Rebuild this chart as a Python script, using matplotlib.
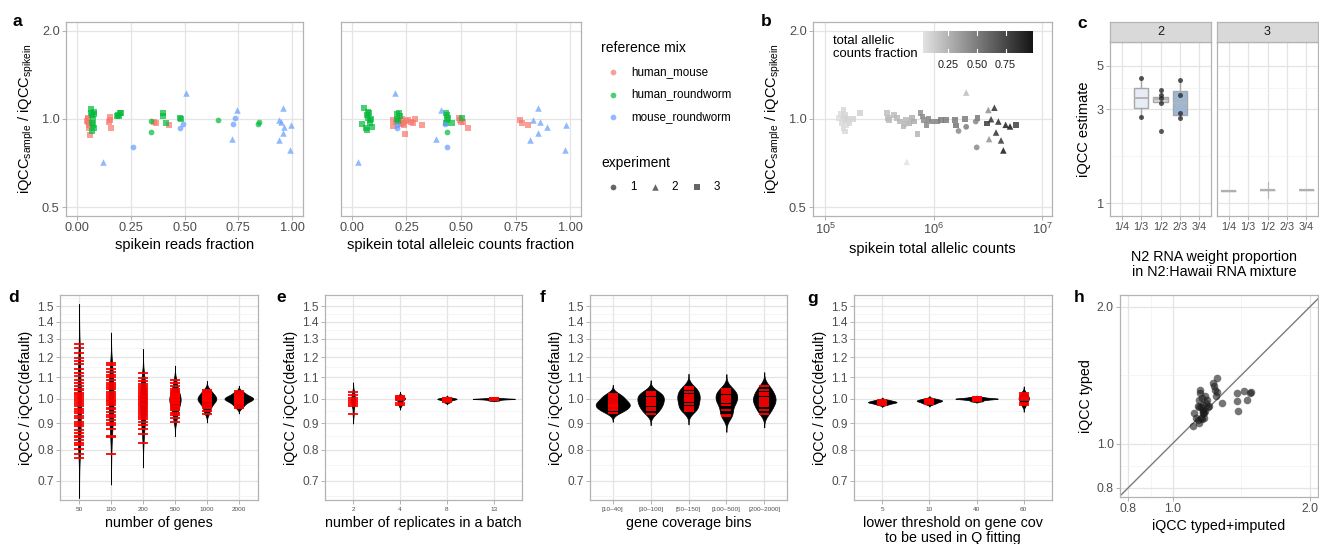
import numpy as np
import matplotlib
matplotlib.use("Agg")
import matplotlib.pyplot as plt
from matplotlib.colors import LinearSegmentedColormap, Normalize
from matplotlib.cm import ScalarMappable
from matplotlib.ticker import FixedLocator, FixedFormatter, NullFormatter

plt.rcParams["font.family"] = ["Liberation Sans", "DejaVu Sans"]
plt.rcParams["mathtext.fontset"] = "custom"
plt.rcParams["mathtext.rm"] = "Liberation Sans"
plt.rcParams["mathtext.it"] = "Liberation Sans:italic"

# ---------------------------------------------------------------- data
MIXES = ["human_mouse", "human_roundworm", "mouse_roundworm"]
MIX_COLORS = ["#F8766D", "#00BA38", "#619CFF"]
EXP_MARKERS = {1: "o", 2: "^", 3: "s"}

# panel a (left): spike-in reads fraction vs iQCC ratio, per (mix, experiment)
a1_hm3_x = [0.048, 0.050, 0.052, 0.053, 0.055, 0.058, 0.060, 0.150, 0.152, 0.155, 0.158, 0.360, 0.370, 0.428]
a1_hm3_y = [0.985, 1.000, 0.975, 1.010, 0.950, 0.930, 0.885, 0.980, 0.995, 1.013, 0.930, 0.975, 0.970, 0.955]
a1_hr3_x = [0.065, 0.068, 0.070, 0.072, 0.072, 0.074, 0.075, 0.078, 0.078, 0.080,
            0.185, 0.192, 0.198, 0.200, 0.205, 0.398, 0.402, 0.412, 0.478, 0.482]
a1_hr3_y = [1.080, 1.050, 0.970, 1.030, 0.910, 0.950, 1.000, 1.060, 0.930, 1.040,
            1.020, 1.030, 1.020, 1.050, 1.045, 1.050, 1.020, 0.972, 1.005, 1.000]
a1_hr1_x = [0.344, 0.346, 0.654, 0.843, 0.847]
a1_hr1_y = [0.904, 0.985, 0.990, 0.962, 0.980]
a1_mr1_x = [0.261, 0.477, 0.495, 0.724, 0.736]
a1_mr1_y = [0.800, 0.930, 0.962, 0.962, 1.010]
a1_mr2_x = [0.122, 0.505, 0.720, 0.742, 0.937, 0.937, 0.948, 0.955, 0.955, 0.960, 0.990, 0.994]
a1_mr2_y = [0.714, 1.230, 0.854, 1.073, 0.990, 0.845, 0.975, 1.087, 0.895, 0.942, 0.781, 0.955]

# panel a (right): spike-in total allelic counts fraction vs iQCC ratio
a2_hm3_x = [0.188, 0.190, 0.200, 0.215, 0.225, 0.228, 0.235, 0.240, 0.243, 0.250, 0.258, 0.270,
            0.280, 0.290, 0.320, 0.490, 0.495, 0.500, 0.510, 0.530, 0.770, 0.778, 0.809]
a2_hm3_y = [0.945, 0.990, 0.975, 0.990, 0.960, 1.000, 0.970, 0.955, 0.888, 0.985, 0.990, 0.975,
            0.972, 1.000, 0.950, 1.010, 0.995, 0.975, 0.980, 0.930, 0.990, 0.972, 0.955]
a2_hr3_x = [0.048, 0.057, 0.064, 0.070, 0.070, 0.075, 0.075, 0.080, 0.083, 0.085, 0.088, 0.092,
            0.205, 0.208, 0.212, 0.215, 0.222, 0.430, 0.432, 0.435, 0.438, 0.440, 0.457, 0.503]
a2_hr3_y = [0.960, 1.087, 0.930, 1.030, 0.915, 1.010, 1.060, 1.045, 0.970, 0.990, 1.000, 0.940,
            1.000, 1.040, 0.985, 1.050, 1.020, 1.050, 0.970, 1.030, 0.995, 1.010, 0.970, 1.005]
a2_hr1_x = [0.434]
a2_hr1_y = [0.904]
a2_mr1_x = [0.205, 0.207, 0.425, 0.434]
a2_mr1_y = [0.955, 0.930, 0.962, 0.800]
a2_mr2_x = [0.029, 0.199, 0.386, 0.407, 0.816, 0.832, 0.852, 0.852, 0.862, 0.896, 0.977, 0.982]
a2_mr2_y = [0.714, 1.230, 0.854, 1.073, 0.845, 0.995, 0.898, 1.090, 0.980, 0.942, 0.781, 0.955]

# panel b: spike-in total allelic counts, ratio, and allelic counts fraction (colour)
b3_counts = [1.33e5, 1.40e5, 1.42e5, 1.45e5, 1.48e5, 1.48e5, 1.50e5, 1.53e5, 1.53e5, 1.56e5, 1.58e5, 1.62e5, 1.68e5, 1.82e5, 2.10e5,
             3.7e5, 3.8e5, 3.9e5, 4.3e5, 4.6e5, 4.9e5, 5.3e5, 5.6e5, 6.0e5, 6.3e5, 6.6e5, 7.1e5,
             7.6e5, 7.9e5, 8.2e5, 8.6e5, 9.0e5, 9.6e5, 1.07e6, 1.18e6, 1.30e6, 1.58e6, 1.62e6, 1.95e6, 2.55e6, 3.09e6, 5.75e6]
b3_ratio = [1.005, 1.040, 0.970, 0.990, 1.073, 0.930, 1.020, 1.030, 0.906, 0.980, 0.955, 1.000, 0.965, 1.000, 1.050,
            1.050, 1.010, 0.990, 1.030, 1.005, 0.980, 0.943, 0.990, 0.965, 1.005, 0.980, 0.888,
            1.050, 1.020, 0.990, 0.955, 1.000, 0.980, 0.980, 0.990, 0.990, 0.990, 0.950, 1.000, 1.010, 0.965, 0.955]
b3_frac = [0.05, 0.06, 0.07, 0.06, 0.08, 0.07, 0.09, 0.08, 0.07, 0.09, 0.06, 0.10, 0.08, 0.10, 0.11,
           0.19, 0.20, 0.21, 0.20, 0.22, 0.23, 0.24, 0.22, 0.25, 0.26, 0.28, 0.24,
           0.41, 0.43, 0.42, 0.44, 0.45, 0.46, 0.48, 0.50, 0.50, 0.51, 0.53, 0.50, 0.52, 0.80, 0.78]
b1_counts = [5.5e5, 1.70e6, 2.00e6, 2.45e6, 2.50e6]
b1_ratio = [0.960, 0.910, 0.940, 0.980, 0.800]
b1_frac = [0.22, 0.44, 0.50, 0.46, 0.44]
b2_counts = [5.66e5, 2.00e6, 3.20e6, 3.64e6, 3.39e6, 3.96e6, 4.62e6, 5.07e6, 3.77e6, 3.25e6, 4.19e6, 4.40e6]
b2_ratio = [0.714, 1.230, 1.073, 1.092, 0.998, 0.980, 0.955, 0.943, 0.899, 0.854, 0.845, 0.781]
b2_frac = [0.03, 0.20, 0.42, 0.86, 0.84, 0.90, 0.95, 0.98, 0.86, 0.39, 0.82, 0.98]

# panel c: N2 weight proportion categories, box statistics and points per facet
c_categories = ["1/4", "1/3", "1/2", "2/3", "3/4"]
c2_box_cats = ["1/3", "1/2", "2/3"]
c2_q1 = [3.06, 3.29, 2.81]
c2_med = [3.44, 3.40, 3.22]
c2_q3 = [3.86, 3.49, 3.74]
c2_lo = [2.75, 3.25, 2.70]
c2_hi = [4.34, 3.76, 4.23]
c2_fill = ["#e8edf5", "#d2d6dc", "#9db6d3"]
c2_pts_1_3 = [4.34, 2.75]
c2_pts_1_2 = [3.76, 3.55, 3.44, 3.25, 2.33]
c2_pts_2_3 = [4.23, 3.57, 2.87, 2.70]
c3_box_cats = ["1/4", "1/2", "3/4"]
c3_med = [1.156, 1.170, 1.165]
c3_lo = [1.156, 1.056, 1.165]
c3_hi = [1.156, 1.280, 1.165]

# panel d: number of genes
d_labels = ["50", "100", "200", "500", "1000", "2000"]
d_50 = [0.772, 0.785, 0.803, 0.818, 0.826, 0.834, 0.845, 0.851, 0.862, 0.874, 0.889, 0.897, 0.905, 0.918,
        0.926, 0.941, 0.948, 0.957, 0.969, 0.978, 0.986, 0.994, 1.003, 1.012, 1.021, 1.028, 1.039, 1.046,
        1.058, 1.071, 1.087, 1.104, 1.121, 1.137, 1.162, 1.178, 1.196, 1.224, 1.247, 1.272]
d_100 = [0.787, 0.846, 0.852, 0.878, 0.893, 0.901, 0.912, 0.925, 0.934, 0.946, 0.955, 0.963, 0.972, 0.981,
         0.989, 0.996, 1.004, 1.013, 1.022, 1.031, 1.042, 1.051, 1.063, 1.074, 1.086, 1.098, 1.112, 1.124,
         1.141, 1.158, 1.168]
d_200 = [0.824, 0.858, 0.876, 0.891, 0.903, 0.915, 0.924, 0.933, 0.941, 0.949, 0.958, 0.965, 0.972, 0.979,
         0.986, 0.993, 1.000, 1.007, 1.014, 1.022, 1.030, 1.039, 1.048, 1.058, 1.069, 1.082, 1.094, 1.119]
d_500 = [0.903, 0.918, 0.931, 0.942, 0.951, 0.958, 0.965, 0.971, 0.977, 0.982, 0.987, 0.991, 0.995, 0.999,
         1.003, 1.007, 1.012, 1.017, 1.022, 1.028, 1.035, 1.044, 1.058, 1.073, 1.088]
d_1000 = [0.937, 0.948, 0.959, 0.967, 0.974, 0.980, 0.985, 0.989, 0.993, 0.996, 0.999, 1.002, 1.005, 1.008,
          1.012, 1.016, 1.021, 1.027, 1.034, 1.041]
d_2000 = [0.962, 0.971, 0.978, 0.984, 0.988, 0.992, 0.995, 0.998, 1.000, 1.002, 1.004, 1.007, 1.010, 1.014,
          1.019, 1.025, 1.033]

# panel e: replicates in a batch
e_labels = ["2", "4", "8", "13"]
e_2 = [0.936, 0.968, 0.979, 0.988, 0.996, 1.004, 1.018, 1.031]
e_4 = [0.972, 0.981, 0.994, 0.998, 1.001, 1.004, 1.008, 1.012]
e_8 = [0.985, 0.990, 0.994, 0.997, 0.999, 1.000, 1.001, 1.003, 1.006]
e_13 = [0.993, 0.996, 0.998, 0.999, 1.000, 1.000, 1.001, 1.002, 1.004]

# panel f: gene coverage bins
f_labels = ["[10\u201340]", "[30\u2013100]", "[50\u2013150]", "[100\u2013500]", "[200\u20132000]"]
f_10_40 = [0.942, 0.951, 0.958, 0.964, 0.970, 0.975, 0.980, 0.986, 0.993, 1.002, 1.011, 1.021]
f_30_100 = [0.938, 0.952, 0.963, 0.972, 0.981, 0.990, 0.998, 1.006, 1.015, 1.024, 1.031]
f_50_150 = [0.948, 0.957, 0.966, 0.979, 0.991, 1.000, 1.009, 1.019, 1.030, 1.042, 1.053]
f_100_500 = [0.926, 0.934, 0.952, 0.975, 0.985, 0.994, 1.004, 1.013, 1.026, 1.035, 1.042]
f_200_2000 = [0.938, 0.953, 0.968, 0.978, 0.988, 0.997, 1.006, 1.016, 1.027, 1.041, 1.058]

# panel g: lower coverage threshold used in Q fitting
g_labels = ["5", "10", "40", "60"]
g_5 = [0.975, 0.980, 0.983, 0.985, 0.987, 0.989, 0.992, 0.996]
g_10 = [0.978, 0.983, 0.987, 0.990, 0.992, 0.994, 0.997, 1.001]
g_40 = [0.990, 0.995, 0.998, 1.000, 1.001, 1.002, 1.004, 1.008]
g_60 = [0.972, 0.984, 0.993, 0.999, 1.004, 1.010, 1.018, 1.027]

# panel h: iQCC from typed+imputed vs typed sites
h_imputed = [1.110, 1.112, 1.138, 1.143, 1.140, 1.148, 1.148, 1.157, 1.165, 1.168, 1.173, 1.173, 1.160, 1.180,
             1.185, 1.190, 1.195, 1.200, 1.228, 1.232, 1.238, 1.249, 1.249, 1.245, 1.281, 1.382, 1.386, 1.393,
             1.434, 1.453, 1.477, 1.485, 1.155, 1.140, 1.168, 1.180, 1.155, 1.125, 1.138, 1.165]
h_typed = [1.091, 1.168, 1.207, 1.110, 1.249, 1.291, 1.313, 1.260, 1.215, 1.187, 1.168, 1.138, 1.130, 1.270,
           1.228, 1.249, 1.200, 1.207, 1.359, 1.335, 1.313, 1.393, 1.300, 1.270, 1.228, 1.291, 1.240, 1.180,
           1.305, 1.245, 1.290, 1.300, 1.200, 1.205, 1.165, 1.180, 1.138, 1.140, 1.125, 1.175]

# ---------------------------------------------------------------- figure helpers
W, H = 1319, 544
fig = plt.figure(figsize=(W / 100, H / 100), dpi=100)

FRAME = "#b3b3b3"
GRID_MAJ = "#e4e4e4"
GRID_MIN = "#f1f1f1"
TICK_TXT = "#4d4d4d"


def px_axes(l, t, r, b):
    return fig.add_axes([l / W, 1 - b / H, (r - l) / W, (b - t) / H])


def style(ax, labelsize=9.2):
    ax.set_facecolor("white")
    for s in ax.spines.values():
        s.set_color(FRAME)
        s.set_linewidth(0.9)
    ax.tick_params(which="major", direction="out", length=3, width=0.7, color=FRAME,
                   labelcolor=TICK_TXT, labelsize=labelsize, pad=1.5)
    ax.tick_params(which="minor", length=0)
    ax.grid(True, which="major", color=GRID_MAJ, lw=0.9)
    ax.grid(True, which="minor", color=GRID_MIN, lw=0.5)
    ax.set_axisbelow(True)


def geo_mid(breaks):
    b = np.log10(breaks)
    return list(10 ** ((b[:-1] + b[1:]) / 2))


def log_axis(axis, major, labels, minor=()):
    axis.set_major_locator(FixedLocator(major))
    axis.set_major_formatter(FixedFormatter(labels))
    axis.set_minor_locator(FixedLocator(list(minor)))
    axis.set_minor_formatter(NullFormatter())


def ratio_ylabel(ax):
    ax.set_ylabel(r"iQCC$_{\mathrm{sample}}$ / iQCC$_{\mathrm{spikein}}$", fontsize=10.5, labelpad=4)


# ---------------------------------------------------------------- panel a
def scatter_mix(ax, series):
    for xs, ys, mix, exp in series:
        ax.scatter(xs, ys, s=17 if exp != 2 else 22, marker=EXP_MARKERS[exp], color=MIX_COLORS[mix],
                   alpha=0.7, linewidths=0, zorder=3)


a1 = px_axes(66, 22, 303, 216)
style(a1)
a1.set_yscale("log")
scatter_mix(a1, [(a1_hm3_x, a1_hm3_y, 0, 3), (a1_hr3_x, a1_hr3_y, 1, 3), (a1_hr1_x, a1_hr1_y, 1, 1),
                 (a1_mr1_x, a1_mr1_y, 2, 1), (a1_mr2_x, a1_mr2_y, 2, 2)])
a1.set_xlim(-0.05, 1.05)
a1.set_ylim(0.467, 2.14)
a1.set_xticks([0, 0.25, 0.5, 0.75, 1.0], ["0.00", "0.25", "0.50", "0.75", "1.00"])
log_axis(a1.yaxis, [0.5, 1.0, 2.0], ["0.5", "1.0", "2.0"])
a1.set_xlabel("spikein reads fraction", fontsize=10.5, labelpad=3)
ratio_ylabel(a1)

a2 = px_axes(341, 22, 581, 216)
style(a2)
a2.set_yscale("log")
scatter_mix(a2, [(a2_hm3_x, a2_hm3_y, 0, 3), (a2_hr3_x, a2_hr3_y, 1, 3), (a2_hr1_x, a2_hr1_y, 1, 1),
                 (a2_mr1_x, a2_mr1_y, 2, 1), (a2_mr2_x, a2_mr2_y, 2, 2)])
a2.set_xlim(-0.05, 1.05)
a2.set_ylim(0.467, 2.14)
a2.set_xticks([0, 0.25, 0.5, 0.75, 1.0], ["0.00", "0.25", "0.50", "0.75", "1.00"])
log_axis(a2.yaxis, [0.5, 1.0, 2.0], ["", "", ""])
a2.tick_params(axis="y", length=0)
a2.set_xlabel("spikein total alleleic counts fraction", fontsize=10.5, labelpad=3)

# ---------------------------------------------------------------- panel b
frac_cmap = LinearSegmentedColormap.from_list("frac", ["#e2e2e2", "#141414"])
frac_norm = Normalize(vmin=0.03, vmax=0.99)

bx = px_axes(813, 22, 1052, 216)
style(bx)
bx.set_xscale("log")
bx.set_yscale("log")
for cnt, rat, fr, exp in [(b3_counts, b3_ratio, b3_frac, 3), (b1_counts, b1_ratio, b1_frac, 1),
                          (b2_counts, b2_ratio, b2_frac, 2)]:
    bx.scatter(cnt, rat, c=fr, cmap=frac_cmap, norm=frac_norm, marker=EXP_MARKERS[exp],
               s=17 if exp != 2 else 22, alpha=0.85, linewidths=0, zorder=3)
bx.set_xlim(10 ** 4.889, 10 ** 7.092)
bx.set_ylim(0.467, 2.14)
log_axis(bx.xaxis, [1e5, 1e6, 1e7], [r"$10^{5}$", r"$10^{6}$", r"$10^{7}$"])
log_axis(bx.yaxis, [0.5, 1.0, 2.0], ["0.5", "1.0", "2.0"])
bx.set_xlabel("spikein total allelic counts", fontsize=10.5, labelpad=3)
ratio_ylabel(bx)

cax = px_axes(923, 31, 1033, 53)
cb = fig.colorbar(ScalarMappable(norm=frac_norm, cmap=frac_cmap), cax=cax, orientation="horizontal")
cb.outline.set_visible(False)
cb.set_ticks([0.25, 0.5, 0.75], labels=["0.25", "0.50", "0.75"])
cax.tick_params(length=0, labelsize=7.8, pad=5, labelcolor="#1a1a1a")
for v in [0.25, 0.5, 0.75]:
    cax.plot([v, v], [0, 0.18], color="white", lw=0.8, transform=cax.get_xaxis_transform())
    cax.plot([v, v], [0.82, 1], color="white", lw=0.8, transform=cax.get_xaxis_transform())

# ---------------------------------------------------------------- panel c
c_pos = {c: i + 1 for i, c in enumerate(c_categories)}
c_minor = geo_mid([1, 3, 5])
cf1 = px_axes(1110, 42, 1211, 216)
cf2 = px_axes(1217, 42, 1318, 216)

stats2 = [dict(q1=q1, med=m, q3=q3, whislo=lo, whishi=hi)
          for q1, m, q3, lo, hi in zip(c2_q1, c2_med, c2_q3, c2_lo, c2_hi)]
bp = cf1.bxp(stats2, positions=[c_pos[c] for c in c2_box_cats], widths=0.75, patch_artist=True,
             showfliers=False, showcaps=False, manage_ticks=False,
             boxprops=dict(edgecolor="#a8a8a8", linewidth=1.0),
             whiskerprops=dict(color="#a8a8a8", linewidth=1.0),
             medianprops=dict(color="#b5b5b5", linewidth=1.4))
for patch, fc in zip(bp["boxes"], c2_fill):
    patch.set_facecolor(fc)
for cat, pts in [("1/3", c2_pts_1_3), ("1/2", c2_pts_1_2), ("2/3", c2_pts_2_3)]:
    cf1.scatter([c_pos[cat]] * len(pts), pts, s=13, color="#222222", alpha=0.75, linewidths=0, zorder=4)

stats3 = [dict(q1=m, med=m, q3=m, whislo=lo, whishi=hi) for m, lo, hi in zip(c3_med, c3_lo, c3_hi)]
cf2.bxp(stats3, positions=[c_pos[c] for c in c3_box_cats], widths=0.75, patch_artist=True,
        showfliers=False, showcaps=False, manage_ticks=False,
        boxprops=dict(edgecolor="#b0b0b0", facecolor="#d0d0d0", linewidth=1.0),
        whiskerprops=dict(color="#b5b5b5", linewidth=0.8),
        medianprops=dict(color="#b0b0b0", linewidth=1.6))

for k, (ax, lab) in enumerate([(cf1, "2"), (cf2, "3")]):
    style(ax)
    ax.set_yscale("log")
    ax.set_ylim(0.859, 6.62)
    ax.set_xlim(0.4, 5.6)
    ax.set_xticks(range(1, 6), c_categories)
    ax.tick_params(axis="x", labelsize=7.8, pad=1.5)
    log_axis(ax.yaxis, [1, 3, 5], ["1", "3", "5"] if k == 0 else ["", "", ""], c_minor)
    if k == 1:
        ax.tick_params(axis="y", length=0)
    l = 1110 if k == 0 else 1217
    strip = px_axes(l, 22, l + 101, 42)
    strip.set_facecolor("#d9d9d9")
    for s in strip.spines.values():
        s.set_color(FRAME)
        s.set_linewidth(0.9)
    strip.set_xticks([])
    strip.set_yticks([])
    strip.text(0.5, 0.5, lab, ha="center", va="center", fontsize=9, color="#1a1a1a",
               transform=strip.transAxes)
cf1.set_ylabel("iQCC estimate", fontsize=10.5, labelpad=4)

# ---------------------------------------------------------------- violin panels d-g
ROW2_MAJ = [0.7, 0.8, 0.9, 1.0, 1.1, 1.2, 1.3, 1.4, 1.5]
ROW2_MIN = [0.655] + geo_mid(ROW2_MAJ) + [1.553]


def kde_log(vals):
    lv = np.log10(np.asarray(vals, dtype=float))
    n = lv.size
    sd = lv.std(ddof=1)
    iqr = np.subtract(*np.percentile(lv, [75, 25]))
    bw = 0.9 * min(sd, iqr / 1.34) * n ** -0.2
    grid = np.linspace(lv.min() - 3 * bw, lv.max() + 3 * bw, 256)
    dens = np.exp(-0.5 * ((grid[:, None] - lv[None, :]) / bw) ** 2).sum(1) / (n * bw * np.sqrt(2 * np.pi))
    return grid, dens


def violin_panel(l, r, groups, labels, xlabel):
    ax = px_axes(l, 295, r, 500)
    style(ax, labelsize=8.6)
    ax.set_yscale("log")
    curves = [kde_log(g) for g in groups]
    dmax = max(d.max() for _, d in curves)
    for i, ((grid, dens), vals) in enumerate(zip(curves, groups), start=1):
        half = dens / dmax * 0.45
        ax.fill_betweenx(10 ** grid, i - half, i + half, facecolor="black", edgecolor="black",
                         lw=0.5, zorder=2)
        ax.scatter([i] * len(vals), vals, marker="_", s=60, color="red", linewidths=1.3, zorder=3)
    ax.set_xlim(0.4, len(groups) + 0.6)
    ax.set_ylim(0.643, 1.574)
    ax.set_xticks(range(1, len(groups) + 1), labels)
    ax.tick_params(axis="x", labelsize=4.6, pad=2)
    log_axis(ax.yaxis, ROW2_MAJ, [f"{v:.1f}" for v in ROW2_MAJ], ROW2_MIN)
    ax.set_xlabel(xlabel, fontsize=10.3, labelpad=3, linespacing=1.05)
    ax.set_ylabel("iQCC / iQCC(default)", fontsize=10.3, labelpad=3)
    return ax


violin_panel(60, 258, [d_50, d_100, d_200, d_500, d_1000, d_2000], d_labels, "number of genes")
violin_panel(325, 522, [e_2, e_4, e_8, e_13], e_labels, "number of replicates in a batch")
violin_panel(590, 787, [f_10_40, f_30_100, f_50_150, f_100_500, f_200_2000], f_labels, "gene coverage bins")
violin_panel(854, 1052, [g_5, g_10, g_40, g_60], g_labels,
             "lower threshold on gene cov\nto be used in Q fitting")

# ---------------------------------------------------------------- panel h
hx = px_axes(1120, 295, 1318, 497)
style(hx, labelsize=8.8)
hx.set_xscale("log")
hx.set_yscale("log")
hx.set_xlim(0.767, 2.08)
hx.set_ylim(0.763, 2.12)
h_maj = [0.8, 1.0, 2.0]
h_min = [0.8 * (0.8 / 1.0) ** 0.5] + geo_mid(h_maj)
log_axis(hx.xaxis, h_maj, ["0.8", "1.0", "2.0"], h_min)
log_axis(hx.yaxis, h_maj, ["0.8", "1.0", "2.0"], h_min)
hx.axline((1.0, 1.0), (2.0, 2.0), color="#7a7a7a", lw=1.0, zorder=2)
hx.scatter(h_imputed, h_typed, s=30, color="#1a1a1a", alpha=0.6, linewidths=0, zorder=3)
hx.set_xlabel("iQCC typed+imputed", fontsize=10.3, labelpad=3)
hx.set_ylabel("iQCC typed", fontsize=10.3, labelpad=3)

# ---------------------------------------------------------------- overlay: letters, legend, titles
ov = fig.add_axes([0, 0, 1, 1])
ov.set_xlim(0, W)
ov.set_ylim(H, 0)
ov.axis("off")

for letter, x, y in [("a", 17, 21), ("b", 766, 21), ("c", 1082, 23), ("d", 14, 298),
                     ("e", 281, 298), ("f", 543, 298), ("g", 813, 298), ("h", 1079, 298)]:
    ov.text(x, y, letter, fontsize=12.5, fontweight="bold", ha="center", va="center")

ov.text(601, 48, "reference mix", fontsize=10, ha="left", va="center")
for k, (name, col) in enumerate(zip(MIXES, MIX_COLORS)):
    y = 72 + k * 22.5
    ov.scatter([613], [y], s=17, color=col, alpha=0.7, linewidths=0)
    ov.text(631, y, name, fontsize=8.4, ha="left", va="center")
ov.text(601, 163, "experiment", fontsize=10, ha="left", va="center")
for k, (exp, xm) in enumerate([(1, 613), (2, 655), (3, 697)]):
    ov.scatter([xm], [187], s=17 if exp != 2 else 22, marker=EXP_MARKERS[exp], color="#333333",
               alpha=0.75, linewidths=0)
    ov.text(xm + 20, 187, str(exp), fontsize=8.4, ha="center", va="center")

ov.text(833, 35, "total allelic\ncounts fraction", fontsize=9.4, ha="left", va="top", linespacing=1.15)
ov.text(1214, 257, "N2 RNA weight proportion", fontsize=10.3, ha="center", va="center")
ov.text(1214, 272, "in N2:Hawaii RNA mixture", fontsize=10.3, ha="center", va="center")

fig.savefig("out.png", dpi=100)
